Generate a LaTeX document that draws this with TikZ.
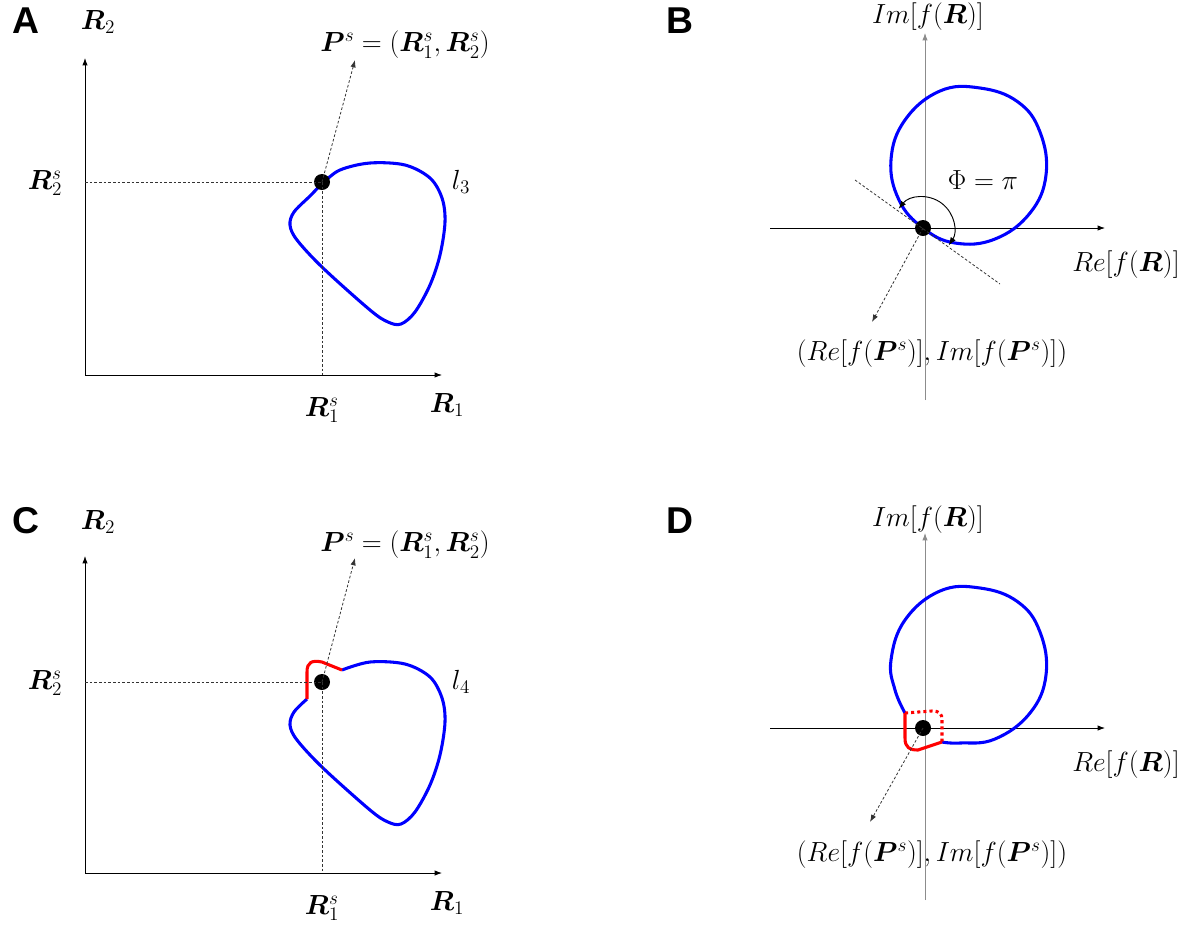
\documentclass[tikz,border=0pt]{standalone}
\usepackage{amsmath}
\usepackage{bm}
\usepackage{fontspec}
\newfontfamily\panelfont{Liberation Sans}
\usetikzlibrary{arrows.meta}
\tikzset{
  axis/.style={line width=0.6pt, -{Latex[length=5.5pt,width=4pt]}},
  guide/.style={line width=0.6pt, dash pattern=on 2pt off 1.5pt, black!80},
  pointer/.style={line width=0.6pt, dash pattern=on 2pt off 1.5pt, black!80, -{Latex[length=5.5pt,width=4pt]}},
  curveb/.style={blue, line width=2.3pt, line join=round},
  curver/.style={red, line width=2.3pt, line join=round},
  dotr/.style={red, line width=2.3pt, dash pattern=on 2.3pt off 2.3pt},
  pt/.style={circle, fill=black, inner sep=0pt, minimum size=12pt},
  lab/.style={inner sep=0pt, font=\fontsize{21}{24}\selectfont},
  panel/.style={inner sep=0pt, font=\fontsize{28}{30}\selectfont\panelfont\bfseries},
}
\begin{document}
\begin{tikzpicture}[x=0.75pt,y=-0.75pt]
\useasboundingbox (0,0) rectangle (1196,926);
% ---------- Panel labels
\node[panel] (pA) at (26,21) {A};
\node[panel] (pB) at (680,21) {B};
\node[panel] (pC) at (26,521) {C};
\node[panel] (pD) at (680,521) {D};

% ========== Panel A
\coordinate (oA) at (85,375);
\coordinate (yA) at (85,58);
\coordinate (xA) at (442,375);
\draw[axis] (oA) -- (yA);
\draw[axis] (oA) -- (xA);
\coordinate (gA1) at (85,182);
\coordinate (gA2) at (322,375);
\coordinate (tA) at (355,60);
\draw[curveb] plot[smooth cycle, tension=0.55] coordinates {(323,183) (340,170) (370,163) (405,165) (430,178) (442,198) (445,222) (440,255) (430,285) (415,312) (401,324) (388,322) (370,310) (323,268) (297,240) (290,225) (294,212) (310,196)};
\node[pt] (sA) at (322,182) {};
\draw[guide] (gA1) -- (sA.center);
\draw[guide] (sA.center) -- (gA2);
\draw[pointer] (sA.center) -- (tA);
\node[lab] (R2A) at (98,22) {$\bm{R}_2$};
\node[lab] (R1A) at (447,405) {$\bm{R}_1$};
\node[lab] (R1sA) at (322,410) {$\bm{R}_1^s$};
\node[lab] (R2sA) at (45,183) {$\bm{R}_2^s$};
\node[lab] (PA) at (405,45) {$\bm{P}^s=(\bm{R}_1^s,\bm{R}_2^s)$};
\node[lab] (lA) at (461,182) {$l_3$};

% ========== Panel B
\coordinate (xB0) at (770,228);
\coordinate (xB1) at (1105,228);
\coordinate (yB0) at (925,400);
\coordinate (yB1) at (925,33);
\draw[axis] (xB0) -- (xB1);
\draw[axis, black!45] (yB0) -- (yB1);
\draw[curveb] plot[smooth cycle, tension=0.7] coordinates {(923,228) (899,200) (891,160) (905,120) (940,91) (980,88) (1018,102) (1040,132) (1046,175) (1030,213) (995,239) (955,243)};
\node[pt] (sB) at (923,228) {};
\coordinate (tB1) at (855,180);
\coordinate (tB2) at (1000,284);
\draw[guide] (tB1) -- (tB2);
\draw[line width=0.7pt, {Latex[length=6pt,width=4.5pt]}-{Latex[length=6pt,width=4.5pt]}] ([shift={(-142:31)}]sB.center) arc[start angle=-142, end angle=34, radius=31];
\coordinate (tB) at (872,322);
\draw[pointer] (sB.center) -- (tB);
\node[lab] (ImB) at (928,17) {$Im[f(\bm{R})]$};
\node[lab] (ReB) at (1126,265) {$Re[f(\bm{R})]$};
\node[lab] (PhB) at (983,180) {$\Phi=\pi$};
\node[lab] (PB) at (932,354) {$(Re[f(\bm{P}^s)],Im[f(\bm{P}^s)])$};

% ========== Panel C
\coordinate (oC) at (85,873);
\coordinate (yC) at (85,556);
\coordinate (xC) at (442,873);
\draw[axis] (oC) -- (yC);
\draw[axis] (oC) -- (xC);
\coordinate (gC1) at (85,682);
\coordinate (gC2) at (322,873);
\coordinate (tC) at (355,558);
\draw[curveb] plot[smooth, tension=0.55] coordinates {(342,670) (370,662) (405,664) (430,677) (442,698) (445,722) (440,755) (430,785) (415,812) (401,824) (388,822) (370,810) (323,768) (297,740) (290,725) (294,712) (307,699)};
\draw[curver] (307,699) -- (307,672) .. controls (307,662) and (312,660) .. (322,662) -- (342,670);
\node[pt] (sC) at (322,682) {};
\draw[guide] (gC1) -- (sC.center);
\draw[guide] (sC.center) -- (gC2);
\draw[pointer] (sC.center) -- (tC);
\node[lab] (R2C) at (98,522) {$\bm{R}_2$};
\node[lab] (R1C) at (447,903) {$\bm{R}_1$};
\node[lab] (R1sC) at (322,908) {$\bm{R}_1^s$};
\node[lab] (R2sC) at (45,683) {$\bm{R}_2^s$};
\node[lab] (PC) at (405,545) {$\bm{P}^s=(\bm{R}_1^s,\bm{R}_2^s)$};
\node[lab] (lC) at (461,682) {$l_4$};

% ========== Panel D
\coordinate (xD0) at (770,728);
\coordinate (xD1) at (1105,728);
\coordinate (yD0) at (925,900);
\coordinate (yD1) at (925,533);
\draw[axis] (xD0) -- (xD1);
\draw[axis, black!45] (yD0) -- (yD1);
\draw[curveb] plot[smooth, tension=0.7] coordinates {(905,713) (895,690) (891,660) (905,620) (940,591) (980,588) (1018,602) (1040,632) (1046,675) (1030,713) (995,739) (960,743) (942,742)};
\draw[curver] (905,713) -- (905,738) .. controls (905,748) and (910,750) .. (918,750) -- (942,742);
\draw[dotr] (905,713) -- (932,711) .. controls (940,711) and (942,714) .. (942,720) -- (942,742);
\node[pt] (sD) at (923,728) {};
\coordinate (tD) at (870,822);
\draw[pointer] (sD.center) -- (tD);
\node[lab] (ImD) at (928,520) {$Im[f(\bm{R})]$};
\node[lab] (ReD) at (1126,765) {$Re[f(\bm{R})]$};
\node[lab] (PD) at (932,855) {$(Re[f(\bm{P}^s)],Im[f(\bm{P}^s)])$};
\end{tikzpicture}
\end{document}
